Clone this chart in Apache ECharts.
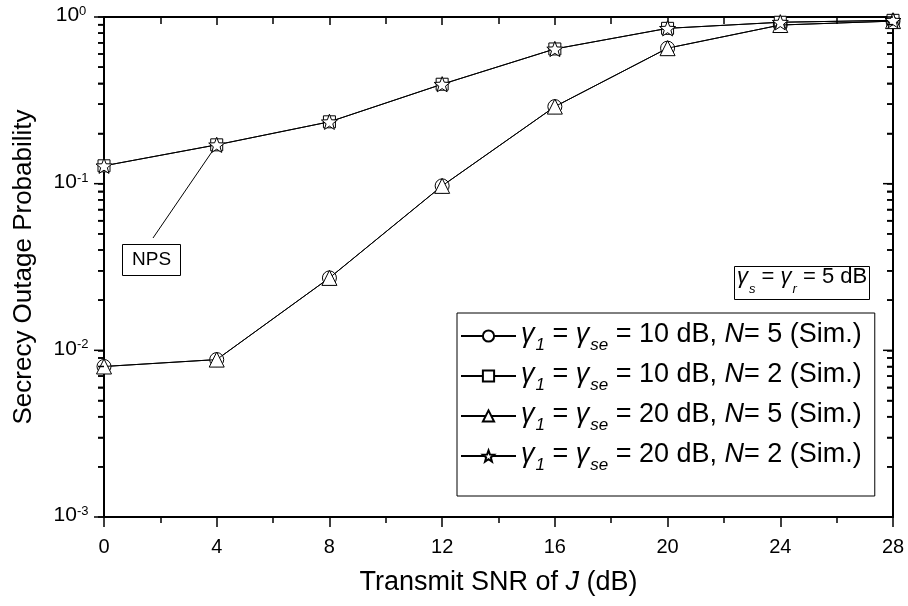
<!DOCTYPE html>
<html><head><meta charset="utf-8">
<script src="https://cdn.jsdelivr.net/npm/echarts@6/dist/echarts.min.js"></script>
<style>html,body{margin:0;padding:0;background:#fff}#c{width:908px;height:606px}</style>
</head><body><div id="c"></div>
<script>
// ---- data ----
const xValues = [0, 4, 8, 12, 16, 20, 24, 28];
const sopG10N5 = [0.0080, 0.0088, 0.0272, 0.097, 0.290, 0.650, 0.895, 0.945];
const sopG10N2 = [0.128, 0.171, 0.235, 0.395, 0.643, 0.855, 0.930, 0.955];
const sopG20N5 = [0.0080, 0.0088, 0.0272, 0.097, 0.290, 0.650, 0.895, 0.945];
const sopG20N2 = [0.128, 0.171, 0.235, 0.395, 0.643, 0.855, 0.930, 0.955];
const gammaDb = [10, 10, 20, 20];
const nValues = [5, 2, 5, 2];
const yMinorMultipliers = [2, 3, 4, 5, 6, 7, 8, 9];
const yDecades = [-3, -2, -1];
const yMajorTicks = [0.001, 0.01, 0.1, 1];
const xRange = [0, 28];

const FONT = "'Liberation Sans', Arial, Helvetica, sans-serif";
const STAR = 'path://M50 0 L62.34 33.01 L97.55 34.55 L69.97 56.49 L79.39 90.45 L50 71 L20.61 90.45 L30.03 56.49 L2.45 34.55 L37.66 33.01 Z';
const seriesData = [sopG10N5, sopG10N2, sopG20N5, sopG20N2];
const symbols = ['circle', 'rect', 'triangle', STAR];
const symbolSizes = [14, 12, 15, 16];
const names = gammaDb.map((g, i) => 'γ1 = γse = ' + g + ' dB, N = ' + nValues[i] + ' (Sim.)');

const minorY = [];
yDecades.forEach(function (e) {
  yMinorMultipliers.forEach(function (k) { minorY.push(Number((k * Math.pow(10, e)).toPrecision(3))); });
});
const allYTicks = yMajorTicks.concat(minorY).sort(function (a, b) { return a - b; });

const chart = echarts.init(document.getElementById('c'));
const axisLineStyle = { color: '#000', width: 2 };
const tickStyle = { color: '#000', width: 1.5 };

const legendRich = {
  t: { fontSize: 27, lineHeight: 30, verticalAlign: 'top', color: '#000', fontFamily: FONT },
  g: { fontSize: 27, lineHeight: 30, verticalAlign: 'top', color: '#000', fontFamily: FONT, fontStyle: 'italic' },
  sub: { fontSize: 17, lineHeight: 17, verticalAlign: 'top', padding: [16, 0, 0, 1], color: '#000', fontFamily: FONT, fontStyle: 'italic' }
};
const boxRich = {
  t: { fontSize: 22, lineHeight: 24, verticalAlign: 'top', color: '#000', fontFamily: FONT, fontWeight: 'normal' },
  g: { fontSize: 22, lineHeight: 24, verticalAlign: 'top', color: '#000', fontFamily: FONT, fontWeight: 'normal', fontStyle: 'italic' },
  sub: { fontSize: 13, lineHeight: 13, verticalAlign: 'top', padding: [17, 0, 0, 1], color: '#000', fontFamily: FONT, fontWeight: 'normal', fontStyle: 'italic' }
};

const series = seriesData.map(function (d, i) {
  return {
    type: 'line', name: names[i], xAxisIndex: 0, yAxisIndex: 0,
    data: xValues.map(function (x, j) { return [x, d[j]]; }),
    symbol: symbols[i], symbolSize: symbolSizes[i], symbolKeepAspect: true,
    showAllSymbol: true, clip: false,
    lineStyle: { color: '#000', width: 1 },
    itemStyle: { color: '#fff', borderColor: '#000', borderWidth: 1 },
    emphasis: { disabled: true },
    z: 2 + i
  };
});

chart.setOption({
  animation: false,
  backgroundColor: '#fff',
  textStyle: { fontFamily: FONT, color: '#000' },
  grid: { left: 104, right: 15, top: 17, bottom: 89 },
  title: [
    {
      text: '{g|γ}{sub|s}{t| = }{g|γ}{sub|r}{t| = 5 dB}',
      left: 734, top: 266, padding: [0, 3, 4, 3],
      borderColor: '#000', borderWidth: 1, backgroundColor: '#fff',
      textStyle: { rich: boxRich, fontWeight: 'normal' }
    },
    {
      text: 'NPS', left: 122, top: 244, padding: [5, 10, 5, 10],
      borderColor: '#000', borderWidth: 1, backgroundColor: '#fff',
      textStyle: { fontSize: 19, lineHeight: 22, fontWeight: 'normal', fontFamily: FONT, color: '#000' }
    }
  ],
  legend: {
    orient: 'vertical', left: 457, top: 313,
    data: names,
    itemWidth: 55, itemHeight: 14, itemGap: 7,
    padding: [8, 13, 22, 3],
    borderColor: '#000', borderWidth: 1, backgroundColor: '#fff',
    selectedMode: false,
    formatter: function (name) {
      const i = names.indexOf(name);
      return '{g|γ}{sub|1}{t| = }{g|γ}{sub|se}{t| = ' + gammaDb[i] + ' dB, }{g|N}{t|= ' + nValues[i] + ' (Sim.)}';
    },
    textStyle: { color: '#000', fontFamily: FONT, fontSize: 27, rich: legendRich }
  },
  xAxis: [
    {
      type: 'value', min: xRange[0], max: xRange[1], interval: 4, position: 'bottom',
      axisLine: { show: true, onZero: false, lineStyle: axisLineStyle },
      axisTick: { show: true, inside: false, length: 10, lineStyle: tickStyle },
      minorTick: { show: true, splitNumber: 2, length: 6, lineStyle: tickStyle },
      splitLine: { show: false }, minorSplitLine: { show: false },
      axisLabel: { margin: 20, fontSize: 20, color: '#000', fontFamily: FONT },
      name: 'Transmit SNR of {i|J} (dB)', nameLocation: 'middle', nameGap: 52,
      nameTextStyle: { fontSize: 27, color: '#000', fontFamily: FONT,
        rich: { i: { fontSize: 27, fontStyle: 'italic', color: '#000', fontFamily: FONT } } }
    },
    {
      type: 'value', min: xRange[0], max: xRange[1], interval: 4, position: 'top',
      axisLine: { show: true, onZero: false, lineStyle: axisLineStyle },
      axisTick: { show: true, inside: true, length: 8, lineStyle: tickStyle },
      minorTick: { show: true, splitNumber: 2, length: 7, lineStyle: tickStyle },
      splitLine: { show: false }, minorSplitLine: { show: false },
      axisLabel: { show: false }
    }
  ],
  yAxis: [
    {
      type: 'log', logBase: 10, min: 0.001, max: 1, position: 'left',
      axisLine: { show: true, onZero: false, lineStyle: axisLineStyle },
      axisTick: { show: true, inside: false, length: 6, customValues: allYTicks, lineStyle: { color: '#000', width: 1.5 } },
      splitLine: { show: false },
      axisLabel: {
        margin: 33, align: 'center', color: '#000', fontSize: 21, fontFamily: FONT,
        formatter: function (v) { return '{b|10}{s|' + Math.round(Math.log10(v)) + '}'; },
        rich: {
          b: { fontSize: 21, lineHeight: 24, verticalAlign: 'top', color: '#000', fontFamily: FONT },
          s: { fontSize: 13, lineHeight: 13, verticalAlign: 'top', color: '#000', fontFamily: FONT }
        }
      },
      name: 'Secrecy Outage Probability', nameLocation: 'middle', nameGap: 67,
      nameTextStyle: { fontSize: 26, color: '#000', fontFamily: FONT }
    },
    {
      type: 'log', logBase: 10, min: 0.001, max: 1, position: 'right',
      axisLine: { show: true, onZero: false, lineStyle: axisLineStyle },
      axisTick: { show: true, inside: true, length: 6, customValues: allYTicks, lineStyle: { color: '#000', width: 1.5 } },
      splitLine: { show: false }, axisLabel: { show: false }
    }
  ],
  series: series
});

// graphics: log ticks placed through the chart's own log scale (majors longer), and the NPS leader line
const graphics = [];
function addTick(v, len) {
  const l = chart.convertToPixel({ seriesIndex: 0 }, [xRange[0], v]);
  const r = chart.convertToPixel({ seriesIndex: 0 }, [xRange[1], v]);
  if (!l || !r || !isFinite(l[1])) return;
  graphics.push({ type: 'line', z: 100, silent: true,
    shape: { x1: l[0] - len, y1: l[1], x2: l[0], y2: l[1] }, style: { stroke: '#000', lineWidth: 1.5 } });
  graphics.push({ type: 'line', z: 100, silent: true,
    shape: { x1: r[0] - len, y1: r[1], x2: r[0], y2: r[1] }, style: { stroke: '#000', lineWidth: 1.5 } });
}
minorY.forEach(function (v) { addTick(v, 6); });
yMajorTicks.forEach(function (v) { addTick(v, 10); });

const target = chart.convertToPixel({ seriesIndex: 3 }, [xValues[1], sopG20N2[1]]);
const start = [153, 238];
const dx = target[0] - start[0], dy = target[1] - start[1];
const len = Math.sqrt(dx * dx + dy * dy);
const endPt = [target[0] - dx / len * 7, target[1] - dy / len * 7];
graphics.push({
  type: 'line', z: 100, silent: true,
  shape: { x1: start[0], y1: start[1], x2: endPt[0], y2: endPt[1] },
  style: { stroke: '#000', lineWidth: 1 }
});
chart.setOption({ graphic: graphics });
</script>
</body></html>
